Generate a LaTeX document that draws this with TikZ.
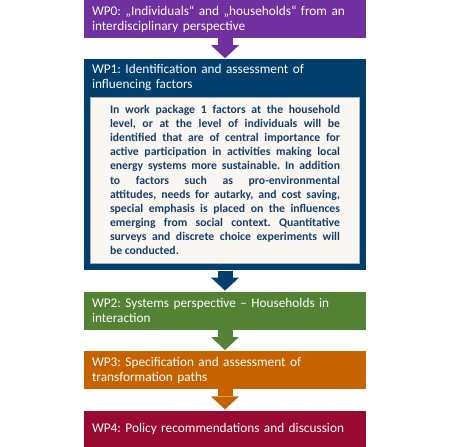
\documentclass[tikz,border=0pt]{standalone}
\usepackage{fontspec}
\setmainfont{Carlito}
\usetikzlibrary{positioning,arrows.meta}

\definecolor{wpviolet}{HTML}{7030A0}
\definecolor{wpblue}{HTML}{023F6D}
\definecolor{wpgreen}{HTML}{548235}
\definecolor{wporange}{HTML}{C66300}
\definecolor{wpred}{HTML}{990A33}
\definecolor{wpcream}{HTML}{FAF7F2}
\definecolor{wpframe}{HTML}{A9B0B8}
\definecolor{wpink}{HTML}{173F6B}

\frenchspacing

\begin{document}
\begin{tikzpicture}[
    x=1pt, y=1pt,
    wpbox/.style={
        align=left,
        text width=266pt,
        inner xsep=8pt,
        inner ysep=0pt,
        minimum height=38pt,
        text=white,
        font={\fontsize{13.3}{15}\selectfont},
        execute at begin node={\hangindent=35pt\hangafter=1}
    },
    detailbox/.style={
        draw=wpframe,
        line width=0.8pt,
        fill=wpcream,
        align=justify,
        text width=230pt,
        inner xsep=19.5pt,
        inner ysep=0pt,
        minimum height=166pt,
        text=wpink,
        font={\fontsize{11.7}{14.1}\selectfont\bfseries}
    },
    wparrow/.style={
        line width=15pt,
        shorten >=1pt,
        -{Triangle[length=13pt,width=28pt,line width=0pt]}
    }
]

\useasboundingbox (0,0) rectangle (450,-447);

\node[wpbox, fill=wpviolet] (wp0) at (225,-19)
    {WP0: „Individuals“ and „households“ from an\\interdisciplinary perspective};

\node[wpbox, fill=wpblue, minimum height=211pt, below=21pt of wp0] (wp1) {};

\node[wpbox, anchor=north, minimum height=37pt] (wp1head) at (wp1.north)
    {WP1: Identification and assessment of\\influencing factors};

\node[detailbox, below=0pt of wp1head] (wp1body)
    {In work package 1 factors at the household\linebreak
     level, or at the level of individuals will be\linebreak
     identified that are of central importance for\linebreak
     active participation in activities making local\linebreak
     energy systems more sustainable. In addition\linebreak
     to factors such as pro-environmental\linebreak
     attitudes, needs for autarky, and cost saving,\linebreak
     special emphasis is placed on the influences\linebreak
     emerging from social context. Quantitative\linebreak
     surveys and discrete choice experiments will\linebreak
     be conducted.};

\node[wpbox, fill=wpgreen, below=21pt of wp1] (wp2)
    {WP2: Systems perspective -- Households in\\interaction};

\node[wpbox, fill=wporange, below=21pt of wp2] (wp3)
    {WP3: Specification and assessment of\\transformation paths};

\node[wpbox, fill=wpred, minimum height=37pt, below=21pt of wp3] (wp4)
    {WP4: Policy recommendations and discussion};

\draw[wparrow, wpviolet] (wp0) -- (wp1);
\draw[wparrow, wpblue] (wp1) -- (wp2);
\draw[wparrow, wpgreen] (wp2) -- (wp3);
\draw[wparrow, wporange] (wp3) -- (wp4);

\end{tikzpicture}
\end{document}
